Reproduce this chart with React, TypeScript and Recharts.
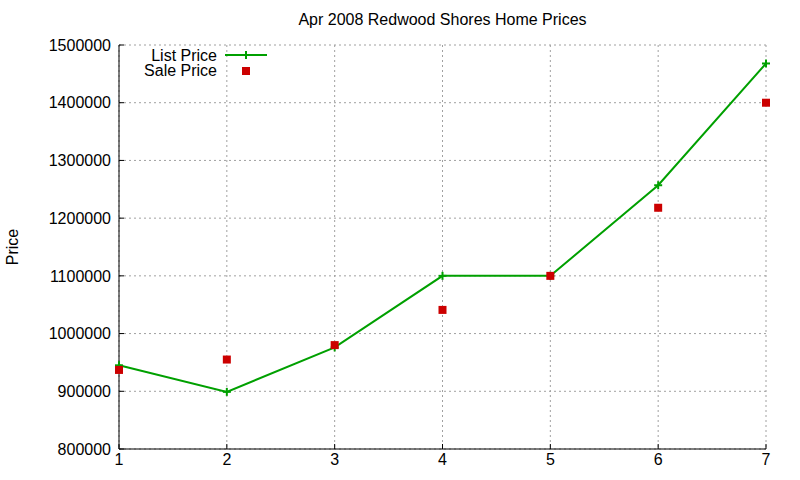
import { ComposedChart, Line, Scatter, XAxis, YAxis, CartesianGrid } from "recharts"

const months = [1, 2, 3, 4, 5, 6, 7]
const listPrice = [945000, 899000, 976000, 1100000, 1100000, 1257000, 1468000]
const salePrice = [937000, 955000, 980000, 1041000, 1100000, 1218000, 1400000]
const yTicks = [800000, 900000, 1000000, 1100000, 1200000, 1300000, 1400000, 1500000]

const GREEN = "#00a000"
const RED = "#cc0000"
const FONT = "'Liberation Sans', Arial, sans-serif"

const data = months.map((m, i) => ({ month: m, list: listPrice[i], sale: salePrice[i] }))

// gnuplot-like "+" marker
const PlusDot = (props: any) => {
  const { cx, cy } = props
  if (cx == null || cy == null) return null
  return (
    <g>
      <line x1={cx - 4} x2={cx + 4} y1={cy} y2={cy} stroke={GREEN} strokeWidth={2} />
      <line x1={cx} x2={cx} y1={cy - 4} y2={cy + 4} stroke={GREEN} strokeWidth={2} />
    </g>
  )
}

const SquareDot = (props: any) => {
  const { cx, cy } = props
  if (cx == null || cy == null) return <g />
  return <rect x={cx - 4} y={cy - 4} width={8} height={8} fill={RED} />
}

const tickStyle = { fill: "#000", fontSize: 16, fontFamily: FONT }

export default function App() {
  return (
    <div style={{ position: "absolute", top: 0, left: 0, width: 800, height: 480, background: "#fff", fontFamily: FONT }}>
      <ComposedChart width={800} height={480} data={data} margin={{ top: 45, right: 34, bottom: 0, left: 0 }}>
        <CartesianGrid stroke="#a0a0a0" strokeDasharray="2 3" />
        <XAxis
          dataKey="month"
          type="number"
          domain={[1, 7]}
          ticks={months}
          height={31}
          tickSize={-5}
          tickMargin={10}
          stroke="#000"
          tick={tickStyle}
          axisLine={{ stroke: "#000", strokeWidth: 1 }}
        />
        <XAxis
          xAxisId="top"
          orientation="top"
          dataKey="month"
          type="number"
          domain={[1, 7]}
          ticks={months}
          height={0}
          tickSize={-5}
          tick={false}
          stroke="#000"
        />
        <YAxis
          type="number"
          domain={[800000, 1500000]}
          ticks={yTicks}
          width={119}
          tickSize={-5}
          tickMargin={13}
          stroke="#000"
          tick={tickStyle}
          label={{
            content: () => (
              <text x={18} y={247} transform="rotate(-90 18 247)" textAnchor="middle" fontSize={16} fontFamily={FONT} fill="#000">
                Price
              </text>
            ),
          }}
        />
        <YAxis
          yAxisId="right"
          orientation="right"
          type="number"
          domain={[800000, 1500000]}
          ticks={yTicks}
          width={0}
          tickSize={-5}
          tick={false}
          stroke="#000"
        />
        <Line
          dataKey="list"
          stroke={GREEN}
          strokeWidth={2}
          dot={<PlusDot />}
          activeDot={false}
          isAnimationActive={false}
        />
        <Scatter dataKey="sale" shape={<SquareDot />} isAnimationActive={false} />
      </ComposedChart>

      <div style={{ position: "absolute", top: 11, left: 119, width: 647, textAlign: "center", fontSize: 16, lineHeight: "18px", color: "#000" }}>
        Apr 2008 Redwood Shores Home Prices
      </div>

      <svg width={300} height={40} style={{ position: "absolute", top: 45, left: 0 }}>
        <text x={217} y={16} textAnchor="end" fontSize={16} fontFamily={FONT} fill="#000">List Price</text>
        <line x1={225} x2={267} y1={10} y2={10} stroke={GREEN} strokeWidth={2} />
        <line x1={242} x2={250} y1={10} y2={10} stroke={GREEN} strokeWidth={2} />
        <line x1={246} x2={246} y1={6} y2={14} stroke={GREEN} strokeWidth={2} />
        <text x={217} y={31} textAnchor="end" fontSize={16} fontFamily={FONT} fill="#000">Sale Price</text>
        <rect x={242} y={22} width={8} height={8} fill={RED} />
      </svg>
    </div>
  )
}
